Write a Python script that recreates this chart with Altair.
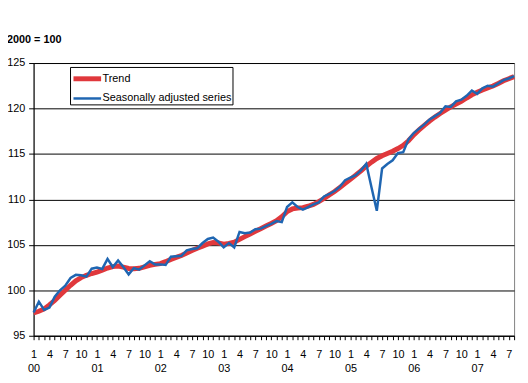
import altair as alt
import pandas as pd

years = ["00", "01", "02", "03", "04", "05", "06", "07"]
month_ticks = ["1", "4", "7", "10"]
series_names = ["Trend", "Seasonally adjusted series"]

trend = [
    97.5, 97.7, 97.95, 98.4, 98.9, 99.45, 100.0, 100.55, 101.05, 101.4, 101.65, 101.85,
    102.0, 102.2, 102.45, 102.6, 102.67, 102.55, 102.4, 102.38, 102.42, 102.58, 102.74, 102.85,
    102.93, 103.15, 103.4, 103.62, 103.83, 104.1, 104.37, 104.62, 104.85, 105.1, 105.25, 105.2,
    105.08, 105.15, 105.3, 105.6, 105.9, 106.2, 106.5, 106.78, 107.07, 107.35, 107.65, 108.1,
    108.65, 108.95, 109.05, 109.1, 109.25, 109.45, 109.75, 110.1, 110.5, 110.86, 111.3, 111.76,
    112.2, 112.66, 113.15, 113.65, 114.1, 114.5, 114.8, 115.05, 115.3, 115.6, 115.95, 116.45,
    117.1, 117.64, 118.15, 118.62, 119.05, 119.45, 119.82, 120.17, 120.48, 120.78, 121.15, 121.5,
    121.78, 122.04, 122.27, 122.47, 122.75, 123.05, 123.28, 123.5,
]

seasonally_adjusted = [
    97.55, 98.75, 97.85, 98.1, 99.3, 100.0, 100.5, 101.35, 101.7, 101.65, 101.5, 102.38,
    102.5, 102.35, 103.45, 102.56, 103.28, 102.56, 101.75, 102.45, 102.28, 102.74, 103.2, 102.85,
    102.85, 102.78, 103.7, 103.75, 103.8, 104.4, 104.55, 104.63, 105.2, 105.65, 105.8, 105.35,
    104.72, 105.2, 104.72, 106.42, 106.28, 106.35, 106.71, 106.78, 107.07, 107.32, 107.61, 107.5,
    109.16, 109.67, 109.16, 108.87, 109.16, 109.45, 109.67, 110.32, 110.6, 110.93, 111.4, 112.12,
    112.4, 112.66, 113.2, 113.92, 111.3, 108.75, 113.4, 113.9, 114.3, 115.1, 115.2, 116.6,
    117.3, 117.79, 118.25, 118.8, 119.16, 119.52, 120.24, 120.17, 120.78, 120.96, 121.4, 121.97,
    121.61, 122.22, 122.5, 122.4, 122.76, 123.12, 123.3, 123.56,
]

n = len(trend)
df_trend = pd.DataFrame({"m": list(range(n)), "v": trend, "series": series_names[0]})
df_sa = pd.DataFrame({"m": list(range(n)), "v": seasonally_adjusted, "series": series_names[1]})

RED = "#E0383C"
BLUE = "#1F66B2"
FONT = "Liberation Sans"

years_js = "[" + ",".join("'%s'" % y for y in years) + "]"
months_js = "[" + ",".join("'%s'" % m for m in month_ticks) + "]"
label_expr = (
    "datum.value % 3 != 0 ? '' : (datum.value % 12 == 0 ? "
    "[" + months_js + "[0], " + years_js + "[floor(datum.value / 12)]] : "
    + months_js + "[(datum.value % 12) / 3])"
)

x_enc = alt.X(
    "m:Q",
    scale=alt.Scale(domain=[0, n - 1], nice=False, zero=False),
    axis=alt.Axis(
        values=list(range(n)),
        labelExpr=label_expr,
        title=None,
        grid=False,
        tickSize=4,
        labelPadding=9,
        labelOverlap=False,
        labelFlush=False,
        labelBound=False,
        labelLineHeight=14,
        labelBaseline="top",
        domainColor="black",
        tickColor="black",
    ),
)
y_enc = alt.Y(
    "v:Q",
    scale=alt.Scale(domain=[95, 125], nice=False, zero=False),
    axis=alt.Axis(
        values=[95, 100, 105, 110, 115, 120, 125],
        title=None,
        grid=True,
        gridColor="black",
        gridOpacity=1,
        gridWidth=1,
        tickSize=5,
        labelPadding=4,
        domainColor="black",
        tickColor="black",
    ),
)
color_enc = alt.Color(
    "series:N",
    scale=alt.Scale(domain=series_names, range=[RED, BLUE]),
    legend=alt.Legend(title=None),
)
sw_enc = alt.StrokeWidth(
    "series:N",
    scale=alt.Scale(domain=series_names, range=[5, 2.5]),
    legend=alt.Legend(title=None),
)

trend_line = alt.Chart(df_trend).mark_line().encode(x=x_enc, y=y_enc, color=color_enc, strokeWidth=sw_enc)
sa_line = alt.Chart(df_sa).mark_line().encode(x=x_enc, y=y_enc, color=color_enc, strokeWidth=sw_enc)

title_df = pd.DataFrame({"t": ["2000 = 100"]})
title = alt.Chart(title_df).mark_text(
    align="left", baseline="middle", fontWeight="bold", fontSize=11, font=FONT, color="black"
).encode(text="t:N", x=alt.value(-27), y=alt.value(-23))

chart = (
    alt.layer(trend_line, sa_line, title)
    .properties(
        width=488,
        height=277,
        autosize=alt.AutoSizeParams(type="none"),
        padding={"left": 26, "top": 53, "right": 6, "bottom": 40},
    )
    .configure_view(stroke="#808080", strokeWidth=1)
    .configure_axis(labelFont=FONT, labelFontSize=11, labelColor="black")
    .configure_legend(
        orient="none",
        legendX=37,
        legendY=4,
        strokeColor="black",
        fillColor="white",
        padding=1,
        symbolType="M-1,0H2.3",
        symbolSize=289,
        labelFont=FONT,
        labelFontSize=11,
        labelColor="black",
        labelOffset=10,
        rowPadding=0,
        cornerRadius=0,
        columnPadding=0,
    )
)

chart.save("out.html", embed_options={"renderer": "svg", "actions": False})
